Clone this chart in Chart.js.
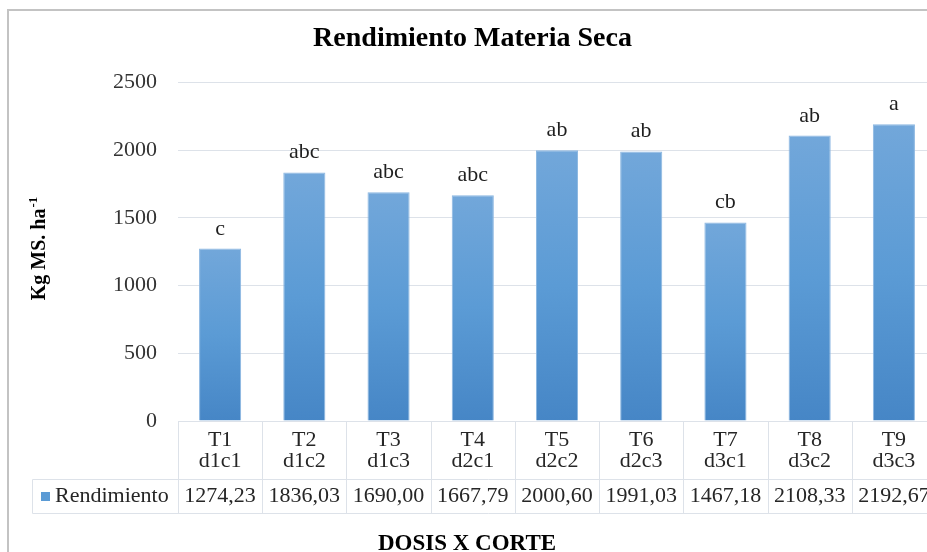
<!DOCTYPE html>
<html lang="es">
<head>
  <meta charset="UTF-8">
  <title>Rendimiento Materia Seca</title>
  <script src="https://cdn.jsdelivr.net/npm/chart.js"></script>
  <style>
    html, body {
      margin: 0;
      padding: 0;
      background: #fff;
      overflow: hidden;
      width: 927px;
      height: 552px;
    }
    #frame {
      position: absolute;
      left: 7px;
      top: 9px;
      width: 936px;
      height: 541px;
      border-left: 2px solid #c3c3c3;
      border-top: 2px solid #c3c3c3;
    }
  </style>
</head>
<body>
  <div id="frame">
    <canvas id="chart" width="936" height="541"></canvas>
  </div>

  <script>
    // data
    const codes = ['T1', 'T2', 'T3', 'T4', 'T5', 'T6', 'T7', 'T8', 'T9'];
    const treatments = ['d1c1', 'd1c2', 'd1c3', 'd2c1', 'd2c2', 'd2c3', 'd3c1', 'd3c2', 'd3c3'];
    const rendimiento = [1274.23, 1836.03, 1690.00, 1667.79, 2000.60, 1991.03, 1467.18, 2108.33, 2192.67];
    const letters = ['c', 'abc', 'abc', 'abc', 'ab', 'ab', 'cb', 'ab', 'a'];
    const yTicks = [0, 500, 1000, 1500, 2000, 2500];

    const SERIF = '"Liberation Serif", "Times New Roman", serif';
    const LINE = '#dde2e9';

    // letters above each bar
    const letterPlugin = {
      id: 'letters',
      afterDatasetsDraw(chart) {
        const ctx = chart.ctx;
        const meta = chart.getDatasetMeta(0);
        ctx.save();
        ctx.font = '22px ' + SERIF;
        ctx.fillStyle = '#1f1f1f';
        ctx.textAlign = 'center';
        ctx.textBaseline = 'alphabetic';
        meta.data.forEach((bar, i) => {
          ctx.fillText(letters[i], bar.x, bar.y - 14);
        });
        ctx.restore();
      }
    };

    // data table under the plot, axis titles
    const tablePlugin = {
      id: 'dataTable',
      afterDraw(chart) {
        const ctx = chart.ctx;
        const area = chart.chartArea;
        const x = chart.scales.x;
        const half = (x.getPixelForValue(1) - x.getPixelForValue(0)) / 2;
        const top = Math.round(area.bottom) + 0.5;
        const mid = 468.5;
        const bot = 502.5;
        const legLeft = 23.5;

        ctx.save();
        ctx.strokeStyle = LINE;
        ctx.lineWidth = 1;
        ctx.beginPath();
        // column dividers
        for (let i = 0; i <= codes.length; i++) {
          const bx = Math.round(x.getPixelForValue(i) - half) + 0.5;
          ctx.moveTo(bx, top);
          ctx.lineTo(bx, bot);
        }
        ctx.moveTo(legLeft, mid);
        ctx.lineTo(legLeft, bot);
        ctx.moveTo(legLeft, mid);
        ctx.lineTo(chart.width, mid);
        ctx.moveTo(legLeft, bot);
        ctx.lineTo(chart.width, bot);
        ctx.stroke();

        ctx.fillStyle = '#262626';
        ctx.font = '22px ' + SERIF;
        ctx.textAlign = 'center';
        ctx.textBaseline = 'alphabetic';
        codes.forEach((c, i) => {
          const cx = x.getPixelForValue(i);
          ctx.fillText(c, cx, 435);
          ctx.fillText(treatments[i], cx, 456);
          ctx.fillText(rendimiento[i].toFixed(2).replace('.', ','), cx, 491);
        });

        // legend key
        ctx.fillStyle = '#5b9bd5';
        ctx.fillRect(32, 481, 9, 9);
        ctx.fillStyle = '#262626';
        ctx.textAlign = 'left';
        ctx.fillText('Rendimiento', 46, 491);

        // x title
        ctx.fillStyle = '#000';
        ctx.font = 'bold 23px ' + SERIF;
        ctx.textAlign = 'center';
        ctx.fillText('DOSIS X CORTE', 458, 539);

        // y title with superscript
        ctx.translate(36, 238);
        ctx.rotate(-Math.PI / 2);
        ctx.font = 'bold 20px ' + SERIF;
        const main = 'Kg MS. ha';
        const w1 = ctx.measureText(main).width;
        ctx.font = 'bold 13px ' + SERIF;
        const w2 = ctx.measureText('-1').width;
        const start = -(w1 + w2) / 2;
        ctx.font = 'bold 20px ' + SERIF;
        ctx.textAlign = 'left';
        ctx.fillText(main, start, 0);
        ctx.font = 'bold 13px ' + SERIF;
        ctx.fillText('-1', start + w1 + 1, -8);
        ctx.restore();
      }
    };

    function barFill(context) {
      const chart = context.chart;
      if (!chart.chartArea) return '#5b9bd5';
      const y = chart.scales.y;
      const t = y.getPixelForValue(context.raw);
      const b = y.getPixelForValue(0);
      const g = chart.ctx.createLinearGradient(0, t, 0, b);
      g.addColorStop(0, '#72a7da');
      g.addColorStop(0.5, '#5b9bd5');
      g.addColorStop(1, '#4686c6');
      return g;
    }

    const chart = new Chart(document.getElementById('chart'), {
      type: 'bar',
      data: {
        labels: codes,
        datasets: [{
          label: 'Rendimiento',
          data: rendimiento,
          backgroundColor: barFill,
          borderColor: '#8ab6e1',
          borderWidth: 1,
          categoryPercentage: 1,
          barPercentage: 0.5
        }]
      },
      options: {
        responsive: false,
        animation: false,
        layout: {
          autoPadding: false,
          padding: { top: 0, left: 0, right: 9, bottom: 131 }
        },
        plugins: {
          legend: { display: false },
          tooltip: { enabled: false },
          title: {
            display: true,
            text: 'Rendimiento Materia Seca',
            color: '#000',
            font: { family: SERIF, size: 28, weight: 'bold' },
            padding: { top: 11, bottom: 27 }
          }
        },
        scales: {
          x: {
            display: false
          },
          y: {
            min: yTicks[0],
            max: yTicks[yTicks.length - 1],
            afterFit(scale) { scale.width = 169; },
            afterBuildTicks(scale) {
              scale.ticks = yTicks.map(v => ({ value: v }));
            },
            border: { display: false },
            grid: { color: LINE, drawTicks: false },
            ticks: {
              padding: 21,
              color: '#333',
              font: { family: SERIF, size: 22 },
              callback: v => String(v)
            }
          }
        }
      },
      plugins: [letterPlugin, tablePlugin]
    });
  </script>
</body>
</html>
